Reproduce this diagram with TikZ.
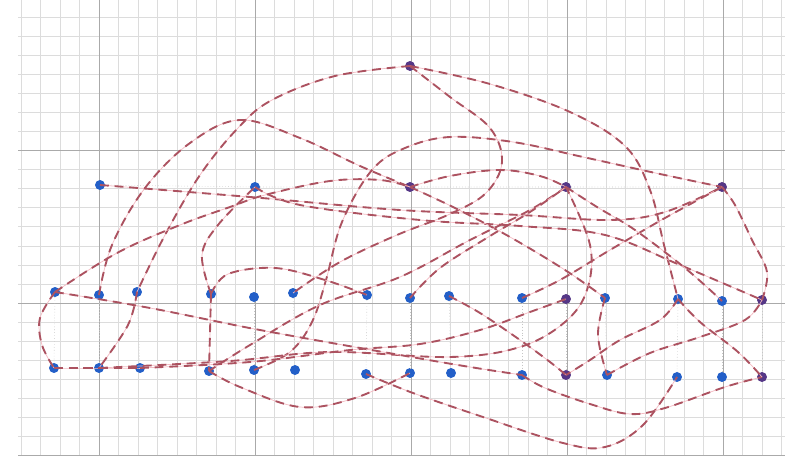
\documentclass[tikz,border=0pt]{standalone}
\usepackage{tikz}
\definecolor{gmin}{RGB}{220,220,220}
\definecolor{gmaj}{RGB}{170,170,170}
\definecolor{ndblue}{RGB}{35,95,200}
\definecolor{ndpurp}{RGB}{85,55,135}
\definecolor{lkdark}{RGB}{172,82,96}
\definecolor{lkpink}{RGB}{244,186,194}
\tikzset{
 gridminor/.style={draw=gmin, line width=0.5pt},
 gridmajor/.style={draw=gmaj, line width=0.8pt},
 dotnode/.style={circle, fill=ndblue, inner sep=0pt, minimum size=8.5pt},
 purpnode/.style={dotnode, fill=ndpurp},
 link/.style={draw=lkdark, line width=1.6pt, dash pattern=on 7.5pt off 5pt, preaction={draw=lkpink, solid, line width=0.6pt}},
 faint/.style={draw=gray!45, dotted, line width=0.5pt}
}
\newcommand\lnk[1]{\draw[link] plot[smooth,tension=0.6] coordinates {#1};}
\begin{document}
\begin{tikzpicture}[x=0.03cm,y=-0.03cm]
\useasboundingbox (0,0) rectangle (794,456);
\fill[white] (0,0) rectangle (794,456);
% grid
\foreach \k in {-4,...,35} \draw[gridminor] ({99+19.5*\k},0) -- ({99+19.5*\k},456);
\foreach \k in {-15,...,8} \draw[gridminor] (18,{303+19.06*\k}) -- (785,{303+19.06*\k});
\foreach \k in {0,...,4} \draw[gridmajor] ({99+156*\k},0) -- ({99+156*\k},456);
\foreach \k in {-1,0,1} \draw[gridmajor] (18,{303+152.5*\k}) -- (785,{303+152.5*\k});
% nodes
\node[purpnode] (R) at (410,66) {};
\node[dotnode] (A1) at (100,185) {};
\node[dotnode] (A2) at (255,187) {};
\node[purpnode] (A3) at (410,187) {};
\node[purpnode] (A4) at (566,187) {};
\node[purpnode] (A5) at (722,187) {};
\node[dotnode] (B1) at (55,292) {};
\node[dotnode] (B2) at (99,295) {};
\node[dotnode] (B3) at (137,292) {};
\node[dotnode] (B4) at (211,294) {};
\node[dotnode] (B5) at (254,297) {};
\node[dotnode] (B6) at (293,293) {};
\node[dotnode] (B7) at (367,295) {};
\node[dotnode] (B8) at (410,298) {};
\node[dotnode] (B9) at (449,296) {};
\node[dotnode] (B10) at (522,298) {};
\node[purpnode] (B11) at (566,299) {};
\node[dotnode] (B12) at (605,298) {};
\node[dotnode] (B13) at (678,299) {};
\node[dotnode] (B14) at (722,301) {};
\node[purpnode] (B15) at (762,300) {};
\node[dotnode] (C1) at (54,368) {};
\node[dotnode] (C2) at (99,368) {};
\node[dotnode] (C3) at (140,368) {};
\node[dotnode] (C4) at (209,371) {};
\node[dotnode] (C5) at (254,370) {};
\node[dotnode] (C6) at (295,370) {};
\node[dotnode] (C7) at (366,374) {};
\node[dotnode] (C8) at (410,373) {};
\node[dotnode] (C9) at (451,373) {};
\node[dotnode] (C10) at (522,375) {};
\node[purpnode] (C11) at (566,375) {};
\node[dotnode] (C12) at (607,375) {};
\node[dotnode] (C13) at (677,377) {};
\node[dotnode] (C14) at (722,377) {};
\node[purpnode] (C15) at (762,377) {};
% faint guides
\draw[faint] (A1) -- (A2) -- (A3) -- (A4) -- (A5);
\foreach \i in {1,...,15} \draw[faint] (B\i) -- (C\i);
% links
\lnk{(R) (335,76) (272,100) (238,128) (200,175) (165,235) (B3)}
\lnk{(B3) (128,325) (C2)}
\lnk{(B2) (112,245) (145,188) (190,143) (240,120) (300,138) (360,166) (A3)}
\lnk{(R) (490,84) (570,112) (625,146) (650,190) (664,245) (B13)}
\lnk{(R) (450,97) (490,128) (502,162) (486,193) (450,214) (397,235) (340,262) (B6)}
\lnk{(C5) (290,352) (312,322) (326,280) (342,222) (372,170) (405,148) (450,137) (513,142) (583,157) (660,174) (A5)}
\lnk{(A1) (250,197) (400,210) (520,215) (610,220) (665,212) (A5)}
\lnk{(A2) (300,205) (420,220) (520,226) (605,235) (680,265) (B15)}
\lnk{(B1) (117,253) (180,225) (230,207) (265,195) (330,181) (380,180) (A3)}
\lnk{(A3) (450,176) (500,170) (540,176) (A4)}
\lnk{(A5) (735,205) (752,240) (767,272) (B15)}
\lnk{(C2) (230,361) (330,352) (450,357) (520,347) (565,322) (587,290) (590,245) (A4)}
\lnk{(B10) (560,280) (610,250) (665,218) (A5)}
\lnk{(B1) (40,318) (42,345) (C1)}
\lnk{(C1) (C2)}
\lnk{(C2) (C3)}
\lnk{(B1) (150,308) (260,330) (400,355) (470,367) (C10)}
\lnk{(B4) (C4)}
\lnk{(B4) (228,274) (275,268) (325,280) (B7)}
\lnk{(B4) (202,255) (218,225) (A2)}
\lnk{(A3) (455,208) (510,237) (565,270) (B12)}
\lnk{(A4) (597,207) (635,230) (685,268) (B14)}
\lnk{(A4) (530,210) (470,240) (400,277) (320,305) (250,345) (C4)}
\lnk{(B12) (598,335) (C12)}
\lnk{(C7) (413,393) (483,417) (563,443) (605,447) (643,425) (C13)}
\lnk{(C10) (545,388) (590,404) (630,414) (665,408) (725,387) (C15)}
\lnk{(C4) (240,387) (300,407) (355,398) (C8)}
\lnk{(C12) (650,353) (700,337) (745,320) (B15)}
\lnk{(B13) (660,320) (620,340) (590,360) (C11)}
\lnk{(B9) (480,313) (520,340) (550,362) (C11)}
\lnk{(B13) (700,322) (738,352) (C15)}
\lnk{(C3) (250,362) (350,350) (420,344) (480,330) (530,312) (B11)}
\lnk{(B8) (440,268) (490,236) (530,212) (A4)}
\end{tikzpicture}
\end{document}
